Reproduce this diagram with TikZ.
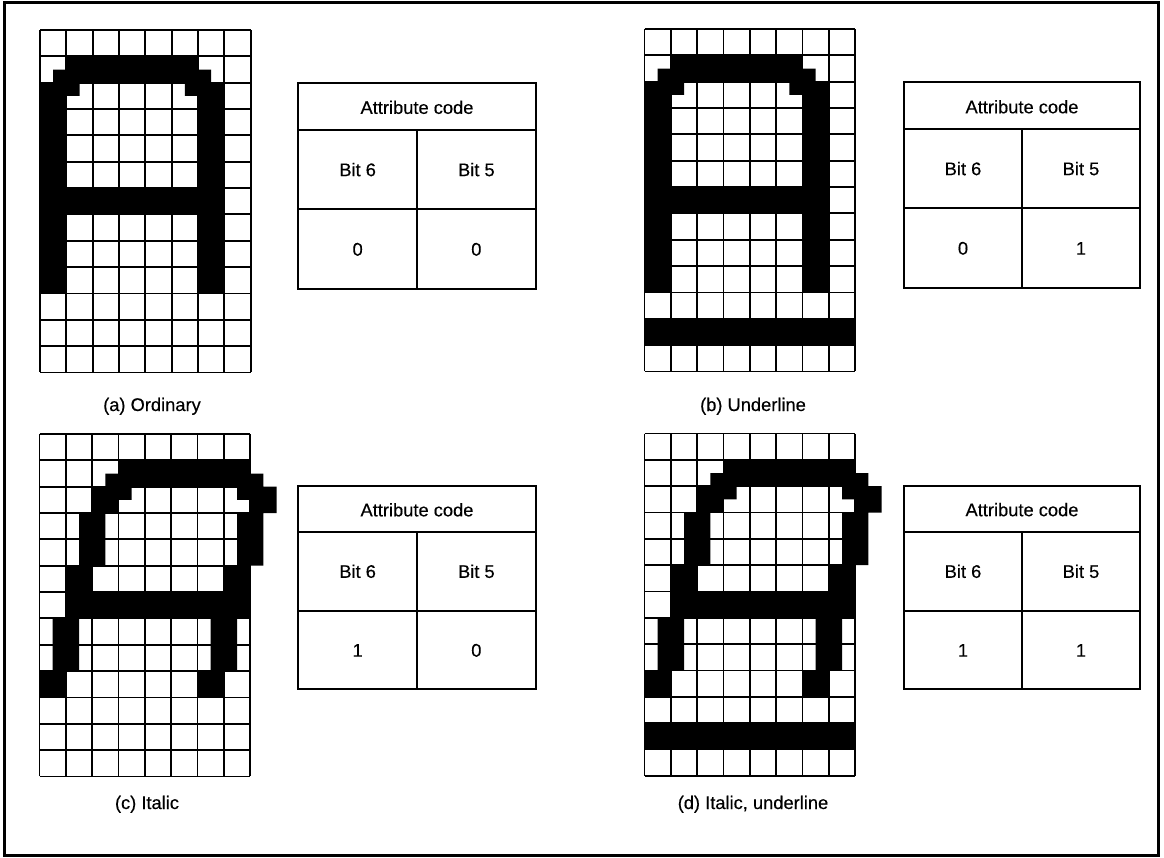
\documentclass[tikz,border=0pt]{standalone}
\usepackage{fontspec}
\setmainfont{Liberation Sans}[BoldFont=Liberation Sans, BoldFeatures={FakeBold=0.3}]
\tikzset{
  gridline/.style={line width=1.8pt, black},
  tabline/.style={line width=1.7pt, black},
  txt/.style={font=\fontsize{18.3}{20}\selectfont\bfseries, inner sep=0pt, anchor=base},
  frameline/.style={line width=3pt, black}
}
% glyph shapes in half-cell units (x right, y down)
\newcommand\glyphordinary{%
  \fill (2,2) rectangle (12,3) (1,3) rectangle (13,4)
        (0,4) rectangle (3,5) (11,4) rectangle (14,5)
        (0,4) rectangle (2,20) (12,4) rectangle (14,20)
        (0,12) rectangle (14,14);
}
\newcommand\glyphitalic{%
  \fill (6,2) rectangle (16,3) (5,3) rectangle (17,4)
        (4,4) rectangle (6,6) (6,4) rectangle (7,5)
        (15,4) rectangle (18,5) (16,5) rectangle (18,6)
        (3,6) rectangle (5,10) (15,6) rectangle (17,10)
        (2,10) rectangle (4,12) (14,10) rectangle (16,12)
        (2,12) rectangle (16,14)
        (1,14) rectangle (3,18) (13,14) rectangle (15,18)
        (0,18) rectangle (2,20) (12,18) rectangle (14,20);
}
\newcommand\glyphunderline{%
  \fill (0,22) rectangle (16,24);
}
\newcommand\cellgrid{%
  \foreach \i in {0,2,...,16} \draw[gridline] (\i,0) -- (\i,26);
  \foreach \j in {0,2,...,26} \draw[gridline] (0,\j) -- (16,\j);
}
% attribute table: #1 name, #2 left, #3 right, #4 top, #5 line1, #6 line2, #7 bottom, #8 bit6, #9 bit5
\newcommand\attrtab[9]{%
  \draw[tabline] (#2,#4) rectangle (#3,#7);
  \draw[tabline] (#2,#5) -- (#3,#5);
  \draw[tabline] (#2,#6) -- (#3,#6);
  \draw[tabline] ({(#2+#3)/2},#5) -- ({(#2+#3)/2},#7);
  \node[txt] (#1-head) at ({(#2+#3)/2},{(#4+#5)/2+7.5}) {Attribute code};
  \node[txt] (#1-b6) at ({(3*#2+#3)/4},{(#5+#6)/2+6.5}) {Bit 6};
  \node[txt] (#1-b5) at ({(#2+3*#3)/4},{(#5+#6)/2+6.5}) {Bit 5};
  \node[txt] (#1-v6) at ({(3*#2+#3)/4},{(#6+#7)/2+6.5}) {#8};
  \node[txt] (#1-v5) at ({(#2+3*#3)/4},{(#6+#7)/2+6.5}) {#9};
}
\begin{document}
\begin{tikzpicture}[x=1pt,y=-1pt]
\useasboundingbox (0,0) rectangle (1164,857);
\draw[frameline] (4.5,2.5) rectangle (1158.5,855.5);

% (a) ordinary
\begin{scope}[shift={(40pt,-30pt)}, x=13.17pt, y=-13.17pt]
  \glyphordinary
  \cellgrid
\end{scope}
% (b) underline
\begin{scope}[shift={(644.5pt,-29pt)}, x=13.17pt, y=-13.17pt]
  \glyphordinary
  \glyphunderline
  \cellgrid
\end{scope}
% (c) italic
\begin{scope}[shift={(39.5pt,-434pt)}, x=13.17pt, y=-13.17pt]
  \glyphitalic
  \cellgrid
\end{scope}
% (d) italic, underline
\begin{scope}[shift={(644.5pt,-433.5pt)}, x=13.17pt, y=-13.17pt]
  \glyphitalic
  \glyphunderline
  \cellgrid
\end{scope}

\attrtab{ta}{298.3}{535.7}{82.7}{130}{209.3}{289}{0}{0}
\attrtab{tb}{904}{1140}{82.3}{129.3}{208}{288.3}{0}{1}
\attrtab{tc}{298.3}{535.7}{486}{531.7}{611}{689.3}{1}{0}
\attrtab{td}{904}{1140}{485.7}{531.7}{611}{689.3}{1}{1}

\node[txt] (capa) at (152,411) {(a) Ordinary};
\node[txt] (capb) at (753,411) {(b) Underline};
\node[txt] (capc) at (147,809) {(c) Italic};
\node[txt] (capd) at (753,809) {(d) Italic, underline};
\end{tikzpicture}
\end{document}
